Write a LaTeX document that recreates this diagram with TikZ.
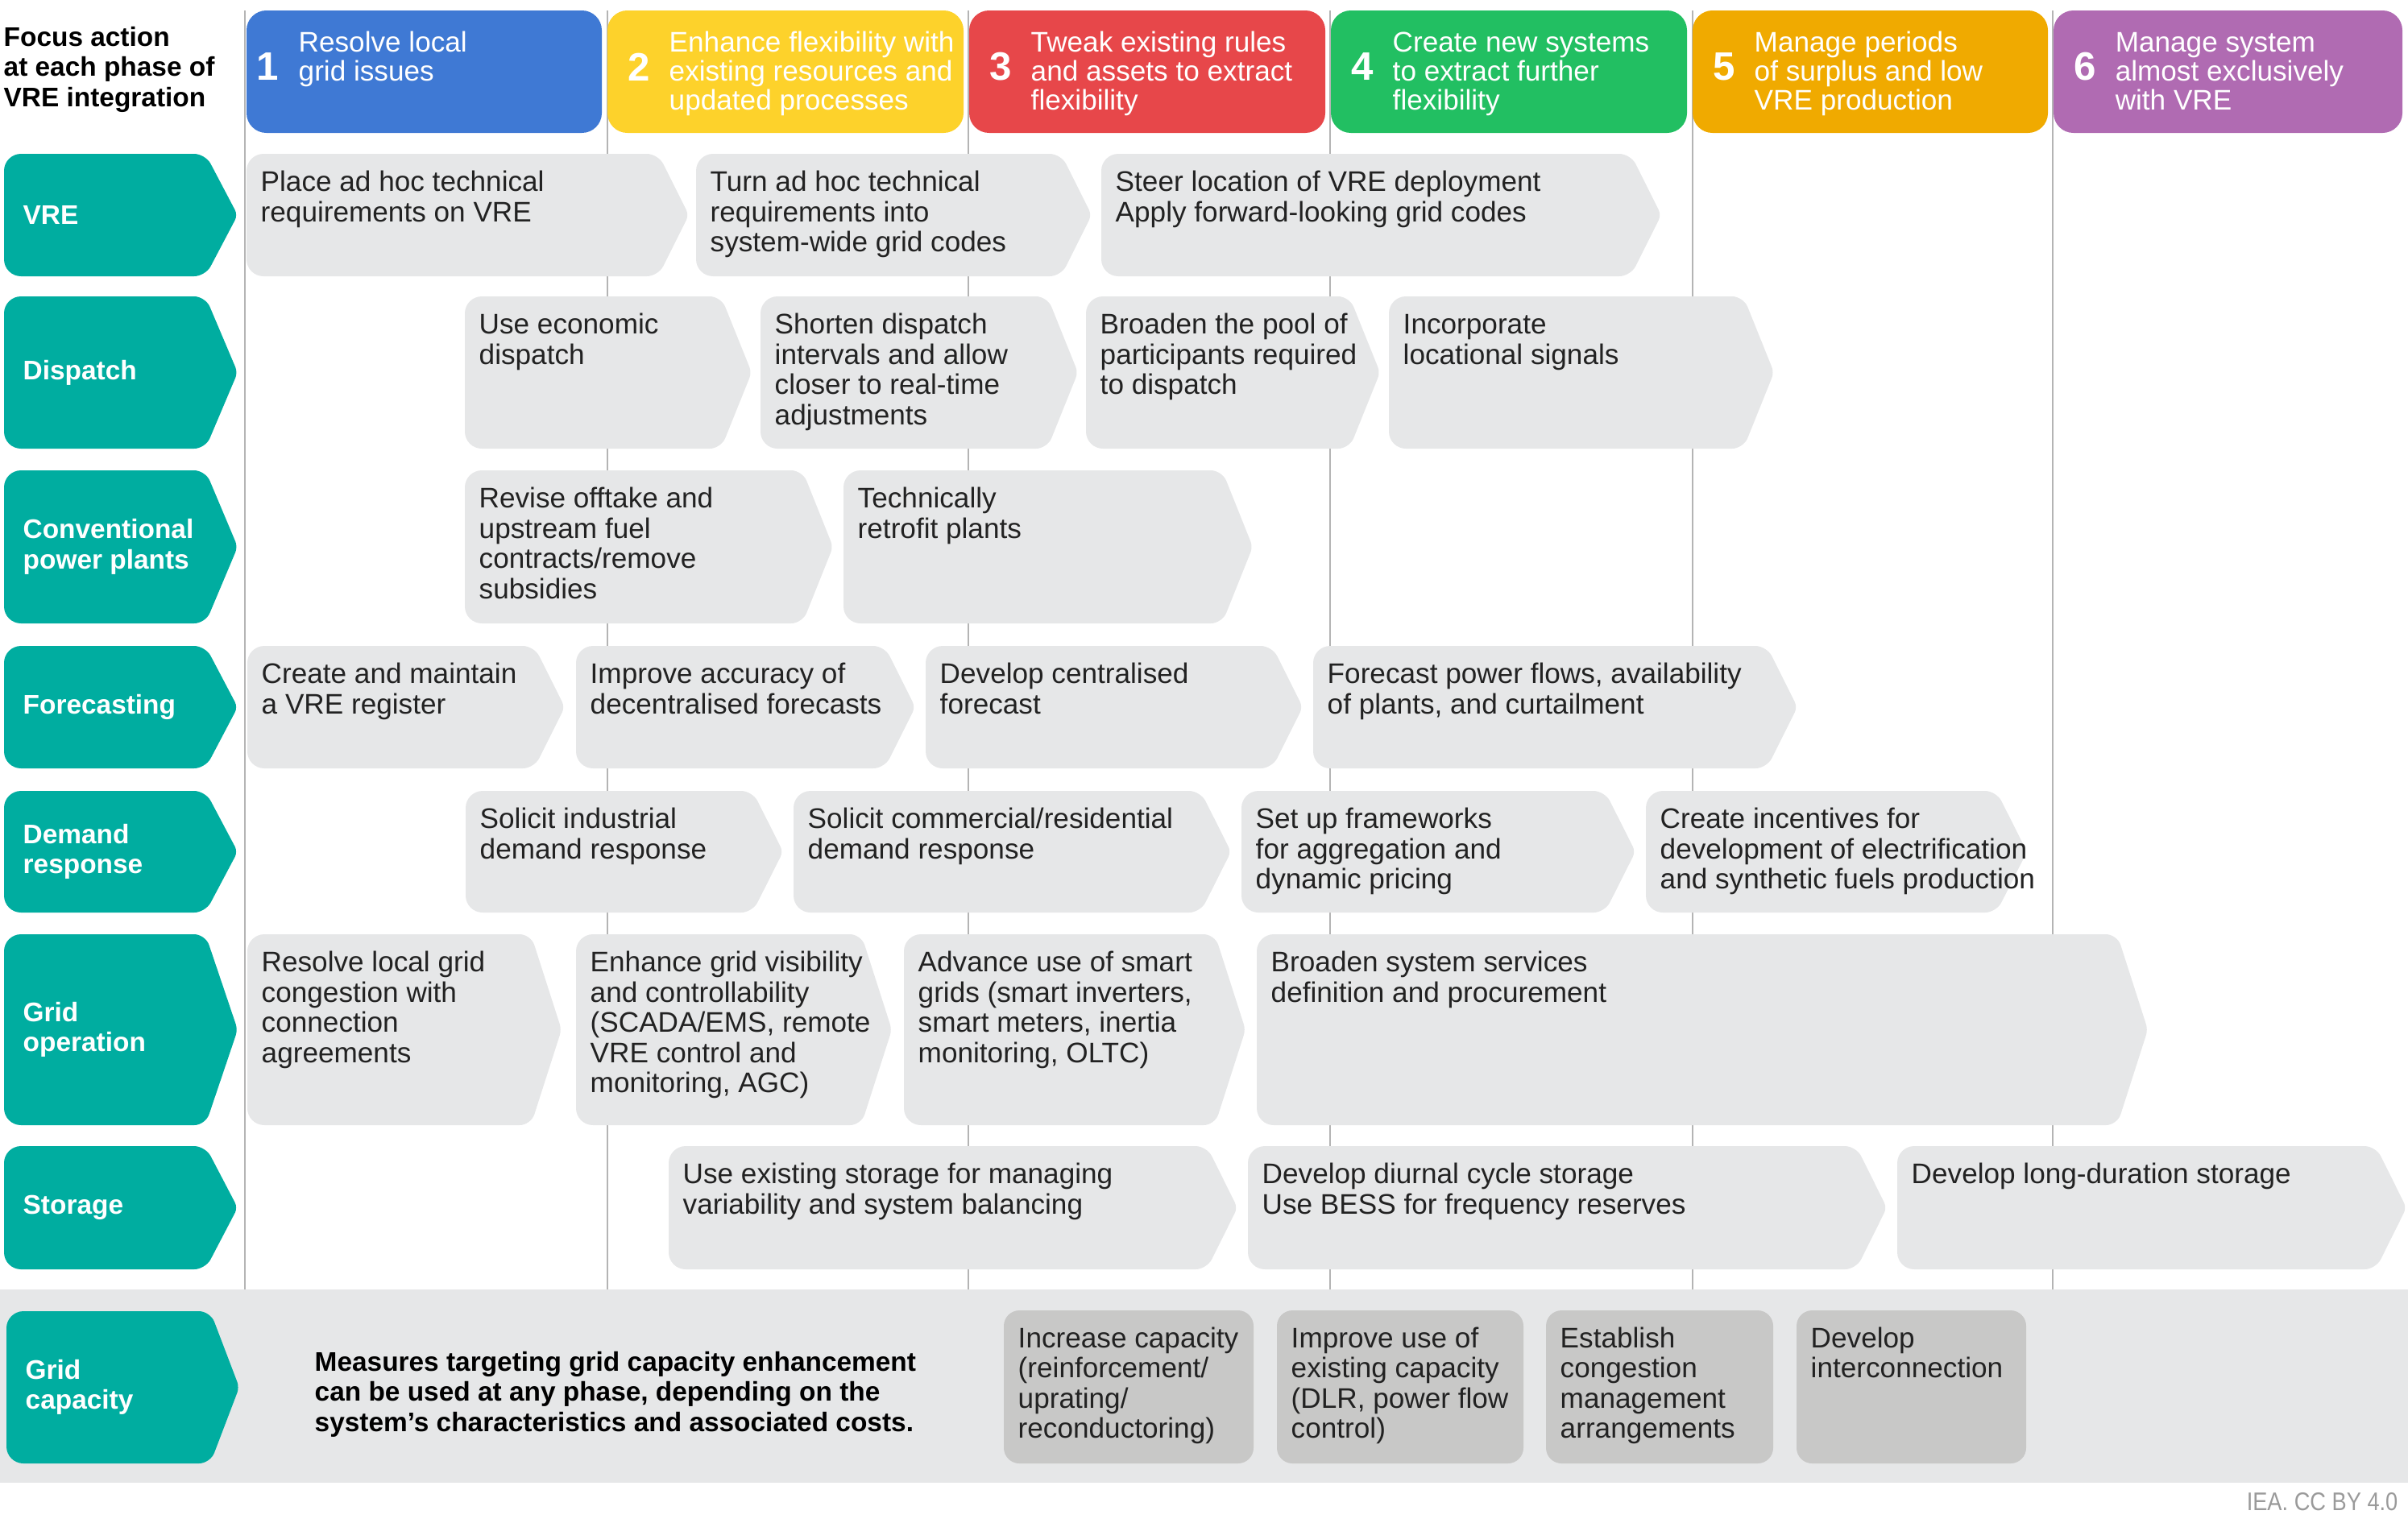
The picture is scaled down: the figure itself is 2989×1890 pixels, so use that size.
\documentclass[tikz,border=0pt]{standalone}
\usepackage{fontspec}
\setmainfont{Liberation Sans}
\definecolor{teal}{HTML}{00ADA0}
\definecolor{boxgray}{HTML}{E6E7E8}
\definecolor{capgray}{HTML}{C8C8C7}
\definecolor{pblue}{HTML}{3F79D4}
\definecolor{pyellow}{HTML}{FDD22B}
\definecolor{pred}{HTML}{E7474A}
\definecolor{pgreen}{HTML}{22BF62}
\definecolor{porange}{HTML}{F0AA00}
\definecolor{ppurple}{HTML}{B06BB2}
\definecolor{vline}{HTML}{B4B4B4}
\definecolor{txt}{HTML}{222222}
\definecolor{iea}{HTML}{9A9A9A}
\newcommand\fl{\rule{0pt}{7.5pt}}
\tikzset{
  btext/.style={anchor=north west, inner sep=0pt, align=left, text=txt, font=\fontsize{10}{10.67}\selectfont},
  htext/.style={anchor=north west, inner sep=0pt, align=left, text=white, font=\fontsize{10}{10.24}\selectfont},
  numtext/.style={anchor=west, inner sep=0pt, text=white, font=\bfseries\fontsize{14}{14}\selectfont},
  ltext/.style={anchor=west, inner sep=0pt, align=left, text=white, font=\bfseries\fontsize{9.5}{10.7}\selectfont},
  boldtext/.style={anchor=north west, inner sep=0pt, align=left, text=black, font=\bfseries\fontsize{9.5}{10.6}\selectfont},
  phaseline/.style={draw=vline, line width=0.6pt}
}
\newcommand\chev[6]{%
  \pgfmathsetmacro\chm{(#3+#5)/2}%
  \pgfmathsetmacro\chx{#4-#6}%
  \fill[#1] (#2,\chm) [rounded corners=6pt] -- (#2,#3) [rounded corners=4pt] -- (\chx,#3) [rounded corners=2pt] -- (#4,\chm) [rounded corners=4pt] -- (\chx,#5) [rounded corners=6pt] -- (#2,#5) -- cycle;}
\newcommand\gbox[6]{%
  \chev{boxgray}{#2}{#3}{#4}{#5}{38}%
  \node[btext] (#1) at ({#2+17},{#3+19.6}) {\fl #6};}
\newcommand\rowlab[4]{%
  \chev{teal}{5}{#2}{295}{#3}{40}%
  \node[ltext] (#1) at (28,{(#2+#3)/2}) {#4};}
\newcommand\phase[8]{%
  \fill[#2, rounded corners=7pt] (#3,13) rectangle (#4,165);
  \node[numtext] (#1n) at (#5,83) {#7};
  \node[htext] (#1) at (#6,37.5) {\fl #8};}
\newcommand\capbox[4]{%
  \fill[capgray, rounded corners=5.5pt] (#2,1627) rectangle (#3,1817);
  \node[btext] (#1) at ({#2+17},1646) {\fl #4};}
\begin{document}
\begin{tikzpicture}[x=0.01cm,y=-0.01cm]
\useasboundingbox (0,0) rectangle (2989,1890);
% phase separator lines
\foreach \xx in {304,754,1202,1651,2101,2548} \draw[phaseline] (\xx,13) -- (\xx,1601);
% header
\node[boldtext] (focus) at (4,30.6) {\fl Focus action\\at each phase of\\VRE integration};
\phase{p1}{pblue}{306}{747}{318}{370}{1}{Resolve local\\grid issues}
\phase{p2}{pyellow}{754}{1196}{778.5}{830}{2}{Enhance flexibility with\\existing resources and\\updated processes}
\phase{p3}{pred}{1203}{1645}{1227.5}{1279}{3}{Tweak existing rules\\and assets to extract\\flexibility}
\phase{p4}{pgreen}{1652}{2094}{1676.5}{1728}{4}{Create new systems\\to extract further\\flexibility}
\phase{p5}{porange}{2101}{2542}{2125.5}{2177}{5}{Manage periods\\of surplus and low\\VRE production}
\phase{p6}{ppurple}{2549}{2982}{2573.5}{2625}{6}{Manage system\\almost exclusively\\with VRE}
% row labels
\rowlab{lvre}{191}{343}{VRE}
\rowlab{ldisp}{368}{557}{Dispatch}
\rowlab{lconv}{584}{774}{Conventional\\power plants}
\rowlab{lfore}{802}{954}{Forecasting}
\rowlab{ldem}{982}{1133}{Demand\\response}
\rowlab{lgrid}{1160}{1397}{Grid\\operation}
\rowlab{lstor}{1423}{1576}{Storage}
% VRE
\gbox{v1}{306}{191}{855}{343}{Place ad hoc technical\\requirements on VRE}
\gbox{v2}{864}{191}{1355}{343}{Turn ad hoc technical\\requirements into\\system-wide grid codes}
\gbox{v3}{1367}{191}{2062}{343}{Steer location of VRE deployment\\Apply forward-looking grid codes}
% Dispatch
\gbox{d1}{577}{368}{933}{557}{Use economic\\dispatch}
\gbox{d2}{944}{368}{1338}{557}{Shorten dispatch\\intervals and allow\\closer to real-time\\adjustments}
\gbox{d3}{1348}{368}{1713}{557}{Broaden the pool of\\participants required\\to dispatch}
\gbox{d4}{1724}{368}{2202}{557}{Incorporate\\locational signals}
% Conventional
\gbox{c1}{577}{584}{1034}{774}{Revise offtake and\\upstream fuel\\contracts/remove\\subsidies}
\gbox{c2}{1047}{584}{1555}{774}{Technically\\retrofit plants}
% Forecasting
\gbox{f1}{307}{802}{701}{954}{Create and maintain\\a VRE register}
\gbox{f2}{715}{802}{1136}{954}{Improve accuracy of\\decentralised forecasts}
\gbox{f3}{1149}{802}{1617}{954}{Develop centralised\\forecast}
\gbox{f4}{1630}{802}{2231}{954}{Forecast power flows, availability\\of plants, and curtailment}
% Demand response
\gbox{r1}{578}{982}{972}{1133}{Solicit industrial\\demand response}
\gbox{r2}{985}{982}{1528}{1133}{Solicit commercial/residential\\demand response}
\gbox{r3}{1541}{982}{2030}{1133}{Set up frameworks\\for aggregation and\\dynamic pricing}
\gbox{r4}{2043}{982}{2516}{1133}{Create incentives for\\development of electrification\\and synthetic fuels production}
% Grid operation
\gbox{g1}{307}{1160}{697}{1397}{Resolve local grid\\congestion with\\connection\\agreements}
\gbox{g2}{715}{1160}{1107}{1397}{Enhance grid visibility\\and controllability\\(SCADA/EMS, remote\\VRE control and\\monitoring, AGC)}
\gbox{g3}{1122}{1160}{1546}{1397}{Advance use of smart\\grids (smart inverters,\\smart meters, inertia\\monitoring, OLTC)}
\gbox{g4}{1560}{1160}{2666}{1397}{Broaden system services\\definition and procurement}
% Storage
\gbox{s1}{830}{1423}{1536}{1576}{Use existing storage for managing\\variability and system balancing}
\gbox{s2}{1549}{1423}{2342}{1576}{Develop diurnal cycle storage\\Use BESS for frequency reserves}
\gbox{s3}{2355}{1423}{2987}{1576}{Develop long-duration storage}
% Grid capacity band
\fill[boxgray] (0,1601) rectangle (2989,1841);
\chev{teal}{8}{1628}{297}{1817}{36}
\node[ltext] (lcap) at (31,1722.5) {Grid\\capacity};
\node[boldtext] (measures) at (390,1675.6) {\fl Measures targeting grid capacity enhancement\\can be used at any phase, depending on the\\system’s characteristics and associated costs.};
\capbox{k1}{1246}{1556}{Increase capacity\\(reinforcement/\\uprating/\\reconductoring)}
\capbox{k2}{1585}{1891}{Improve use of\\existing capacity\\(DLR, power flow\\control)}
\capbox{k3}{1919}{2201}{Establish\\congestion\\management\\arrangements}
\capbox{k4}{2230}{2515}{Develop\\interconnection}
\node[anchor=base east, inner sep=0pt, text=iea, font=\fontsize{9}{9}\selectfont] (iea) at (2977,1875) {\scalebox{0.86}[1]{IEA. CC BY 4.0}};
\end{tikzpicture}
\end{document}
